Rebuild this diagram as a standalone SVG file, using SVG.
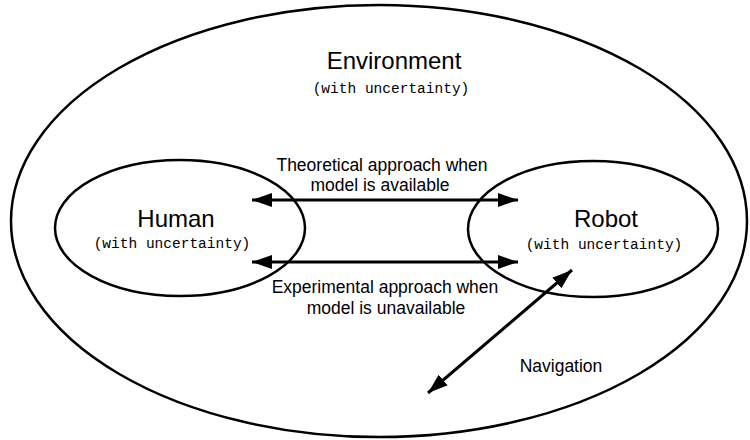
<svg xmlns="http://www.w3.org/2000/svg" width="750" height="440" viewBox="0 0 750 440">
<style>
.ell{fill:none;stroke:#000;stroke-width:2.5}
.big{font-family:"Liberation Sans",Arial,sans-serif;font-size:24px;fill:#000;text-anchor:middle}
.lbl{font-family:"Liberation Sans",Arial,sans-serif;font-size:17.5px;fill:#000;text-anchor:middle}
.sub{font-family:"Liberation Mono","Courier New",monospace;font-size:14.5px;fill:#000;text-anchor:middle}
.con{stroke:#000;stroke-width:3;fill:none}
</style>
<defs>
<marker id="ah" viewBox="0 0 20 14" refX="20" refY="7" markerWidth="20" markerHeight="14" markerUnits="userSpaceOnUse" orient="auto-start-reverse">
<path d="M0,0 L20,7 L0,14 Z" fill="#000"/>
</marker>
</defs>
<rect width="750" height="440" fill="#fff"/>
<g id="environment">
<ellipse class="ell" cx="379" cy="221" rx="368" ry="216" stroke-width="2"/>
<text class="big" x="394" y="69" font-size="25">Environment</text>
<text class="sub" x="391" y="93">(with uncertainty)</text>
</g>
<g id="human">
<ellipse class="ell" cx="180" cy="228" rx="125" ry="68"/>
<text class="big" x="176" y="227">Human</text>
<text class="sub" x="172" y="248">(with uncertainty)</text>
</g>
<g id="robot">
<ellipse class="ell" cx="593" cy="229" rx="125" ry="68"/>
<text class="big" x="606" y="227">Robot</text>
<text class="sub" x="604" y="249">(with uncertainty)</text>
</g>
<g id="connectors">
<line class="con" x1="252" y1="200" x2="518" y2="200" marker-start="url(#ah)" marker-end="url(#ah)"/>
<line class="con" x1="252" y1="262" x2="518" y2="262" marker-start="url(#ah)" marker-end="url(#ah)"/>
<line class="con" x1="428" y1="393" x2="572" y2="270" marker-start="url(#ah)" marker-end="url(#ah)"/>
<text class="lbl" x="382" y="171">Theoretical approach when</text>
<text class="lbl" x="380" y="191">model is available</text>
<text class="lbl" x="385" y="293">Experimental approach when</text>
<text class="lbl" x="386" y="314">model is unavailable</text>
<text class="lbl" x="561" y="372" font-size="17">Navigation</text>
</g>
</svg>
